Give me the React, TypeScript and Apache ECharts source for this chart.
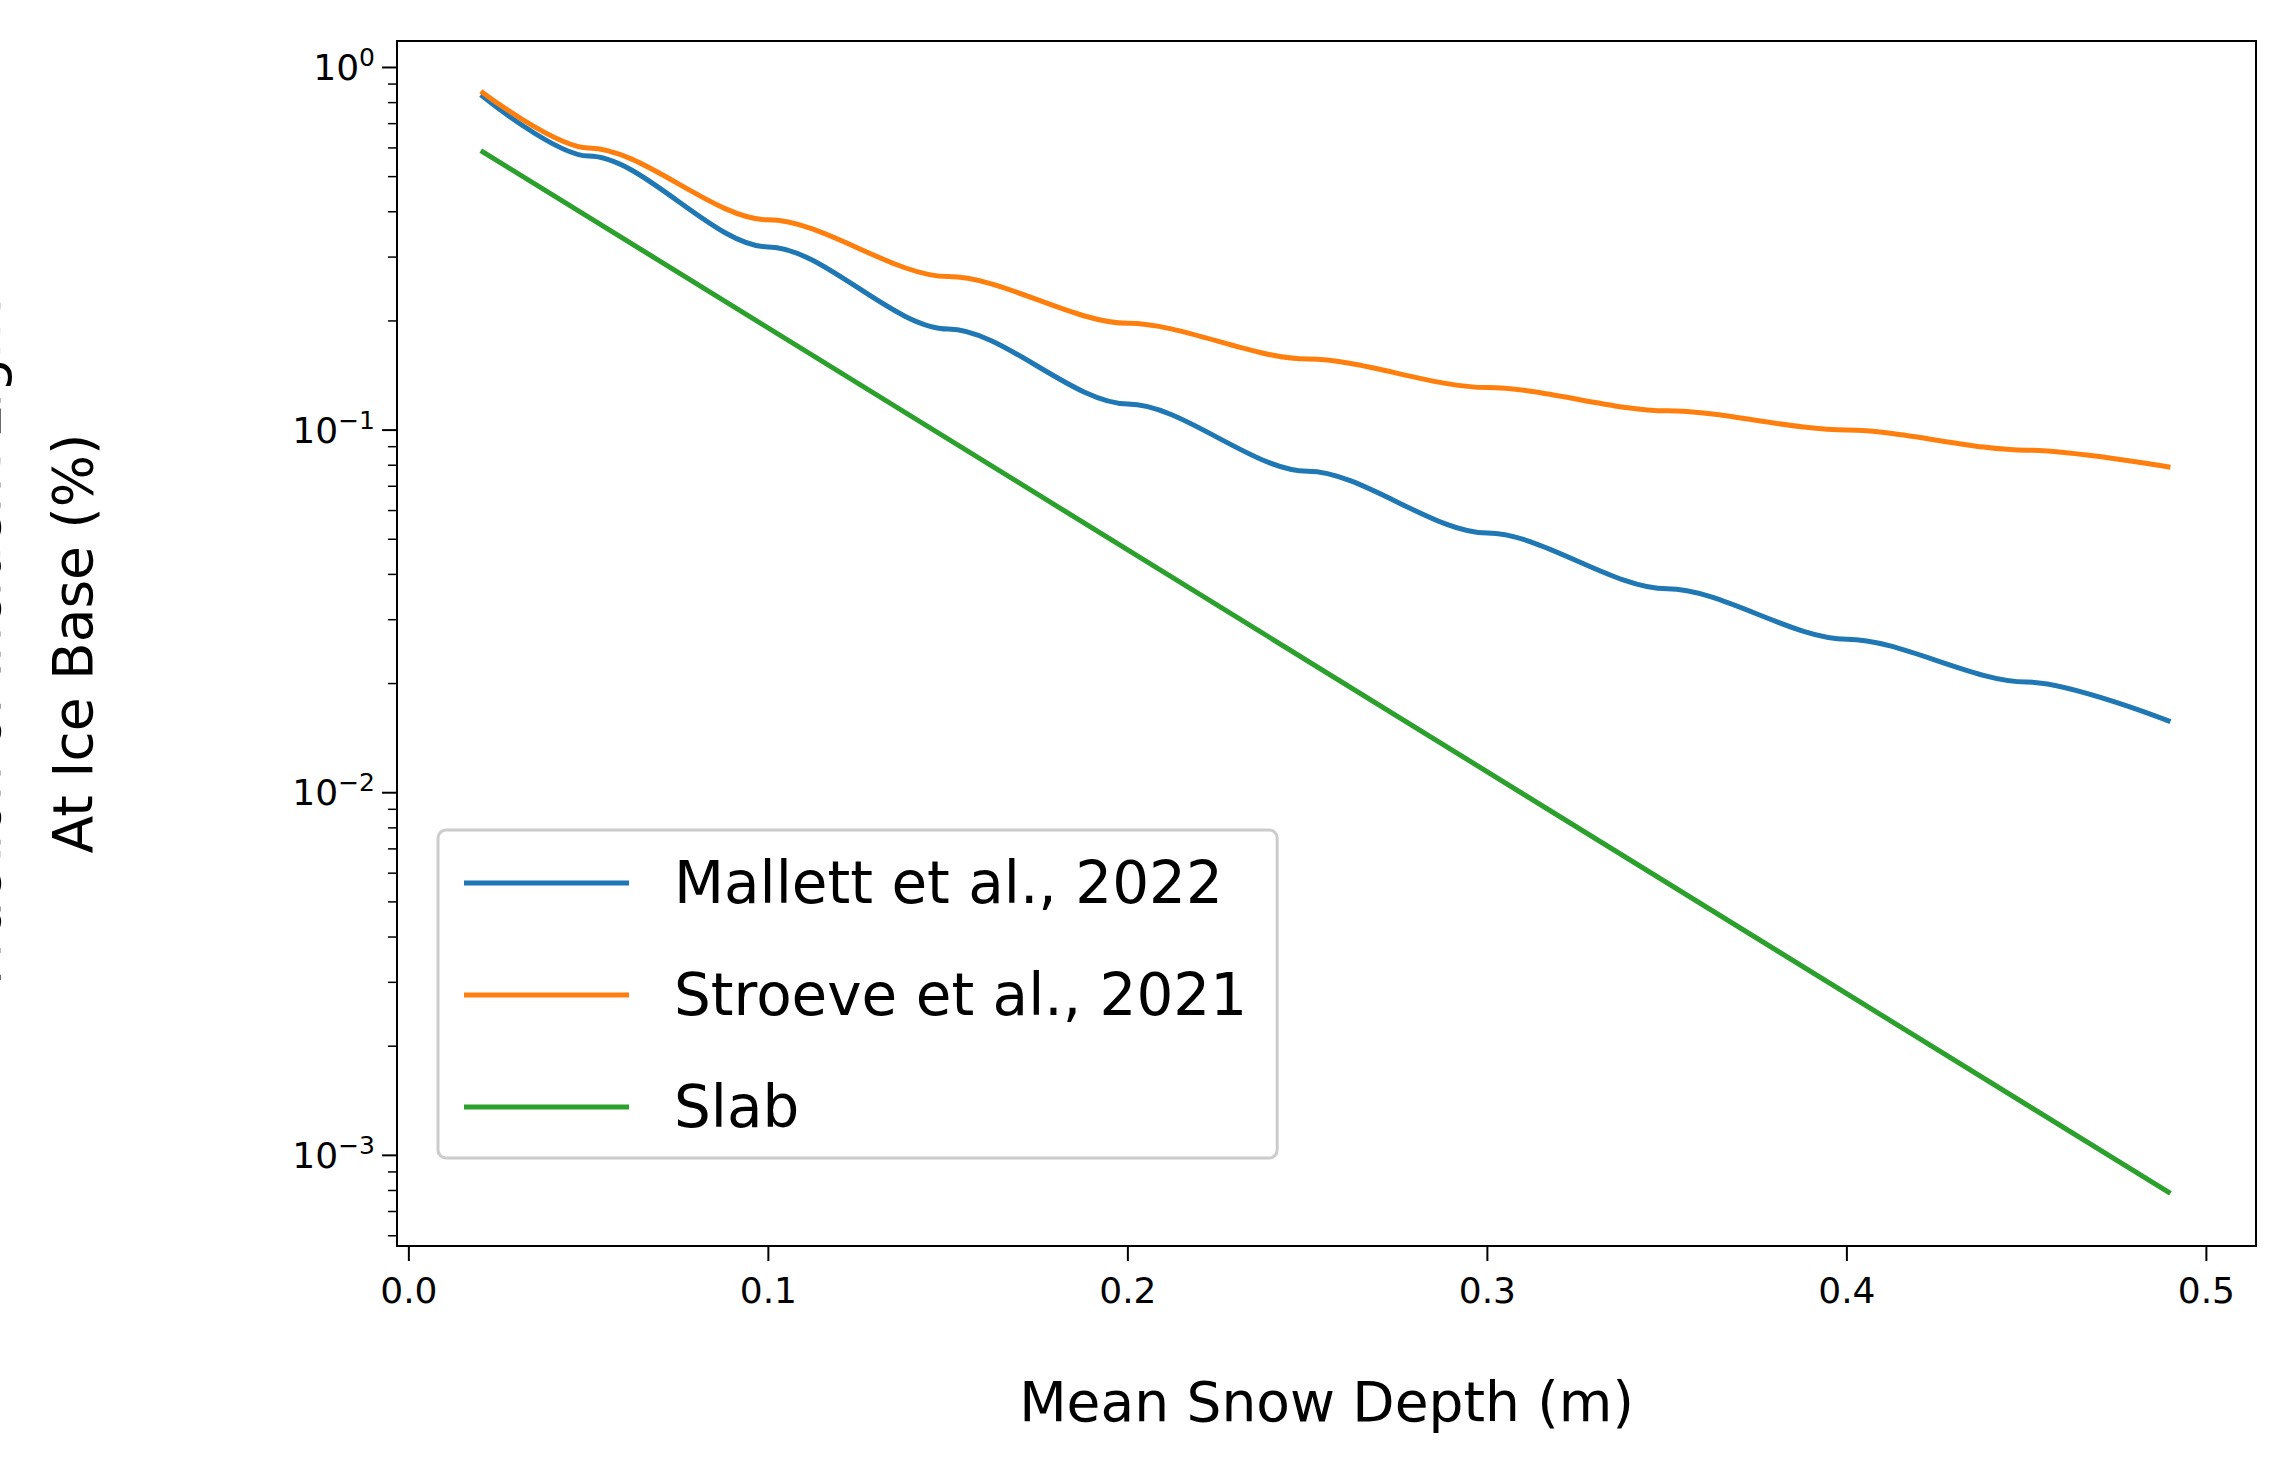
import React, { useEffect, useRef } from "react";
import * as echarts from "echarts";

const depth = [0.02, 0.05, 0.1, 0.15, 0.2, 0.25, 0.3, 0.35, 0.4, 0.45, 0.49];
const mallett = [0.84, 0.57, 0.32, 0.19, 0.118, 0.077, 0.052, 0.0365, 0.0265, 0.0202, 0.0157];
const stroeve = [0.86, 0.6, 0.38, 0.265, 0.197, 0.157, 0.131, 0.113, 0.1, 0.088, 0.079];
const slabDepth = [0.02, 0.49];
const slab = [0.59, 0.000785];

const xTicks = [0, 0.1, 0.2, 0.3, 0.4, 0.5];
const xTickLabels = ["0.0", "0.1", "0.2", "0.3", "0.4", "0.5"];
const yTickExps = [0, -1, -2, -3];
const yMinor = [
  0.0006, 0.0007, 0.0008, 0.0009,
  0.002, 0.003, 0.004, 0.005, 0.006, 0.007, 0.008, 0.009,
  0.02, 0.03, 0.04, 0.05, 0.06, 0.07, 0.08, 0.09,
  0.2, 0.3, 0.4, 0.5, 0.6, 0.7, 0.8, 0.9,
];

const X_MIN = -0.0033;
const X_MAX = 0.5138;
const Y_MIN = -3.25;
const Y_MAX = 0.073;

const App = () => {
  const chartRef = useRef(null);

  useEffect(() => {
    document.body.style.margin = "0";
    const chartDom = chartRef.current;
    if (!chartDom) return;
    const myChart = echarts.init(chartDom, null, { renderer: "svg" });
    const font = "DejaVu Sans";
    const toPts = (xs: number[], ys: number[]) => xs.map((x, i) => [x, Math.log10(ys[i])]);

    const option = {
      animation: false,
      textStyle: { fontFamily: font },
      grid: {
        left: 397, top: 41, width: 1859, height: 1205,
        containLabel: false, outerBoundsMode: "none",
        show: true, borderColor: "#000", borderWidth: 2, backgroundColor: "transparent",
      },
      xAxis: {
        type: "value", min: X_MIN, max: X_MAX,
        axisLine: { show: true, onZero: false, lineStyle: { color: "#000", width: 2 } },
        axisTick: { show: false }, axisLabel: { show: false }, splitLine: { show: false },
        name: "Mean Snow Depth (m)", nameLocation: "middle", nameGap: 128,
        nameTextStyle: { fontSize: 55, color: "#000", fontFamily: font },
      },
      yAxis: {
        type: "value", min: Y_MIN, max: Y_MAX,
        axisLine: { show: true, onZero: false, lineStyle: { color: "#000", width: 2 } },
        axisTick: { show: false }, axisLabel: { show: false }, splitLine: { show: false },
        name: "Fraction of Incident Light\nAt Ice Base (%)", nameLocation: "middle", nameGap: 278,
        nameTextStyle: { fontSize: 55, color: "#000", fontFamily: font, lineHeight: 92 },
      },
      legend: {
        orient: "vertical", left: 438, top: 830,
        padding: [24, 30, 22, 26],
        backgroundColor: "#fff", borderColor: "#ccc", borderWidth: 3, borderRadius: 8,
        itemWidth: 165, itemHeight: 5, itemGap: 54,
        icon: "rect",
        textStyle: { fontSize: 58, color: "#000", fontFamily: font, padding: [0, 0, 0, 40] },
        data: ["Mallett et al., 2022", "Stroeve et al., 2021", "Slab"],
      },
      series: [
        {
          name: "Mallett et al., 2022", type: "line", smooth: 0.3, smoothMonotone: "x", showSymbol: false,
          data: toPts(depth, mallett), color: "#1f77b4", lineStyle: { width: 5 },
        },
        {
          name: "Stroeve et al., 2021", type: "line", smooth: 0.3, smoothMonotone: "x", showSymbol: false,
          data: toPts(depth, stroeve), color: "#ff7f0e", lineStyle: { width: 5 },
        },
        {
          name: "Slab", type: "line", showSymbol: false,
          data: toPts(slabDepth, slab), color: "#2ca02c", lineStyle: { width: 5 },
        },
        {
          type: "custom", clip: false, silent: true, z: 10,
          data: [[0, 0]],
          renderItem: (_params: any, api: any) => {
            const children: any[] = [];
            const ln = (x1: number, y1: number, x2: number, y2: number, w: number) => ({
              type: "line", shape: { x1, y1, x2, y2 }, style: { stroke: "#000", lineWidth: w },
            });
            xTicks.forEach((v, i) => {
              const p = api.coord([v, Y_MIN]);
              children.push(ln(p[0], p[1], p[0], p[1] + 15, 2));
              children.push({
                type: "text", x: p[0], y: p[1] + 26,
                style: { text: xTickLabels[i], fontSize: 36, fill: "#000", fontFamily: font, align: "center", verticalAlign: "top" },
              });
            });
            yTickExps.forEach((e) => {
              const p = api.coord([X_MIN, e]);
              children.push(ln(p[0] - 15, p[1], p[0], p[1], 2));
              children.push({
                type: "text", x: p[0] - 22, y: p[1],
                style: {
                  text: "{b|10}{s|" + (e === 0 ? "0" : "\u2212" + -e) + "}",
                  align: "right", verticalAlign: "middle",
                  rich: {
                    b: { fontSize: 36, fill: "#000", fontFamily: font },
                    s: { fontSize: 25, fill: "#000", fontFamily: font, padding: [0, 0, 20, 0] },
                  },
                },
              });
            });
            yMinor.forEach((v) => {
              const p = api.coord([X_MIN, Math.log10(v)]);
              children.push(ln(p[0] - 9, p[1], p[0], p[1], 1.5));
            });
            return { type: "group", children };
          },
        },
      ],
    };

    myChart.setOption(option as any);
    return () => {
      myChart.dispose();
    };
  }, []);

  return <div ref={chartRef} style={{ width: 2296, height: 1481 }}></div>;
};

export default App;
